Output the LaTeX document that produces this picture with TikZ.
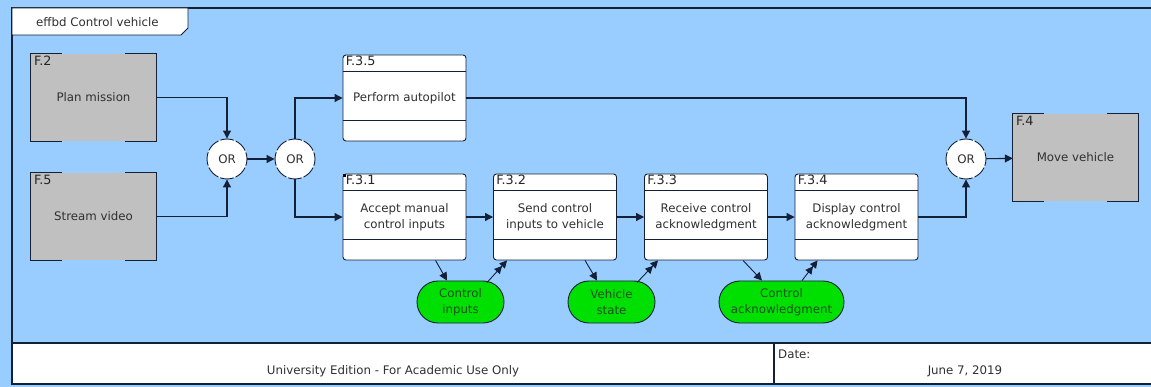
\documentclass[tikz,border=0pt]{standalone}
\usepackage{fontspec}
\setmainfont{DejaVu Sans}
\usetikzlibrary{calc,arrows.meta,shapes.misc}
\definecolor{canvas}{HTML}{99CCFF}
\definecolor{extfn}{HTML}{C0C0C0}
\definecolor{item}{HTML}{00E000}
\definecolor{ink}{HTML}{142038}
\definecolor{txt}{HTML}{303030}
\definecolor{itemtxt}{HTML}{205020}
\begin{document}
\begin{tikzpicture}[x=1pt,y=-1pt,
  font=\fontsize{11.8}{16}\selectfont,
  tip/.tip={Triangle[length=8pt,width=8pt]},
  flow/.style={draw=ink,line width=1.1pt,-tip},
  store/.style={draw=ink,line width=0.9pt,-tip},
  fetch/.style={draw=ink,line width=0.9pt,-{Triangle[length=7.5pt,width=7.5pt]Triangle[length=7.5pt,width=7.5pt]}},
  extbox/.style={fill=extfn,minimum width=125pt,minimum height=87pt,inner sep=0pt,text=txt,align=center},
  fnbox/.style={draw=ink,line width=0.9pt,fill=white,rounded corners=3pt,minimum width=123pt,minimum height=86pt,inner sep=0pt,text=txt,align=center},
  fnid/.style={anchor=north west,inner xsep=3pt,inner ysep=2pt,text=black!85,font=\fontsize{12.8}{14}\selectfont},
  gate/.style={circle,draw=ink,line width=0.9pt,fill=white,minimum size=40pt,inner sep=0pt,text=txt,dash pattern=on 13.7pt off 2pt,dash phase=7pt},
  itembox/.style={rounded rectangle,draw=ink,line width=0.9pt,fill=item,minimum height=42pt,inner sep=0pt,text=itemtxt,align=center}
]
\useasboundingbox (0,0) rectangle (1151,387);
\fill[canvas] (0,0) rectangle (1151,387);

% diagram frame and footer
\fill[white] (12,343) rectangle (1160,384);
\draw[ink,line width=1.6pt] (12,8) rectangle (1160,384);
\draw[ink,line width=1.6pt] (12,343) -- (1160,343);
\draw[ink,line width=1.4pt] (774,343) -- (774,384);
\node[text=txt] (edition) at (393,371) {University Edition - For Academic Use Only};
\node[anchor=west,text=txt,inner sep=0pt] (datelbl) at (778,354) {Date:};
\node[text=txt] (date) at (965,371) {June 7, 2019};

% title tab
\draw[ink,line width=0.8pt,fill=white] (12,8) -- (188,8) -- (188,28) -- (181,35) -- (12,35) -- cycle;
\node[anchor=west,inner sep=0pt,text=txt] (title) at (36,22) {effbd Control vehicle};

% external functions
\foreach \n/\c/\id/\t in {f2/{93.5,97.5}/F.2/Plan mission, f5/{93.5,216.5}/F.5/Stream video, f4/{1075.5,157.5}/F.4/Move vehicle}{
  \node[extbox] (\n) at (\c) {\t};
  \node[fnid] (\n id) at (\n.north west) {\id};
  \draw[ink,line width=1pt]
    ($(\n.north west)+(31,0)$) -- (\n.north west) -- (\n.south west) -- ($(\n.south west)+(31,0)$)
    ($(\n.north east)+(-31,0)$) -- (\n.north east) -- (\n.south east) -- ($(\n.south east)+(-31,0)$);
}

% decomposed functions
\foreach \n/\c/\id/\t in {f35/{404.5,98}/F.3.5/Perform autopilot,
                          f31/{404.5,217}/F.3.1/Accept manual\\control inputs,
                          f32/{555,217}/F.3.2/Send control\\inputs to vehicle,
                          f33/{706,217}/F.3.3/Receive control\\acknowledgment,
                          f34/{856.5,217}/F.3.4/Display control\\acknowledgment}{
  \node[fnbox] (\n) at (\c) {\t};
  \node[fnid,inner ysep=1pt] (\n id) at (\n.north west) {\id};
  \draw[ink,line width=0.9pt] ($(\n.north west)+(0,17)$) -- ($(\n.north east)+(0,17)$)
                              ($(\n.north west)+(0,66)$) -- ($(\n.north east)+(0,66)$);
}
\fill[black] (f31.north west) rectangle ++(3,3);

% control constructs
\node[gate] (or1) at (227,159) {OR};
\node[gate] (or2) at (295,159) {OR};
\node[gate] (or3) at (966,159) {OR};

% items
\node[itembox,minimum width=87pt] (ci) at (460.5,302) {Control\\inputs};
\node[itembox,minimum width=87pt] (vs) at (611.5,302) {Vehicle\\state};
\node[itembox,minimum width=125pt] (ca) at (781.5,302) {Control\\acknowledgment};

% control flow
\draw[flow] (f2.east) -| (or1.north);
\draw[flow] (f5.east) -| (or1.south);
\draw[flow] (or1) -- (or2);
\draw[flow] (or2.north) |- (f35.west);
\draw[flow] (or2.south) |- (f31.west);
\draw[flow] (f31) -- (f32);
\draw[flow] (f32) -- (f33);
\draw[flow] (f33) -- (f34);
\draw[flow] (f35.east) -| (or3.north);
\draw[flow] (f34.east) -| (or3.south);
\draw[flow] (or3) -- (f4);

% data flow
\draw[store] ($(f31.south west)+(93,0)$) -- ($(ci.north)+(-13.5,0)$);
\draw[fetch] ($(ci.north)+(26.5,2)$) -- ($(f32.south west)+(14,0)$);
\draw[store] ($(f32.south west)+(92,0)$) -- ($(vs.north)+(-14.5,0)$);
\draw[fetch] ($(vs.north)+(25.5,2)$) -- ($(f33.south west)+(14,0)$);
\draw[store] ($(f33.south west)+(99,0)$) -- ($(ca.north)+(-19.5,0)$);
\draw[fetch] ($(ca.north)+(20.5,0)$) -- ($(f34.south west)+(23,0)$);
\end{tikzpicture}
\end{document}
